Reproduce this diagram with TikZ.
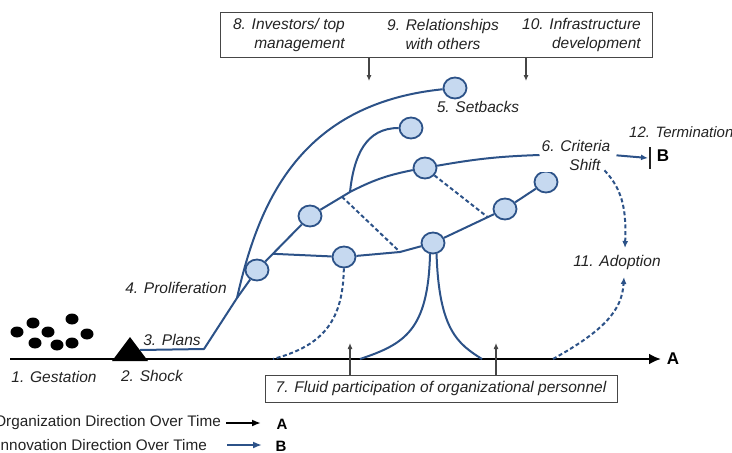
\documentclass[tikz,border=0pt]{standalone}
\usepackage{fontspec}
\setmainfont{Liberation Sans}
\usetikzlibrary{arrows.meta,calc,shapes.geometric}
\definecolor{blu}{RGB}{44,82,136}
\definecolor{cfill}{RGB}{198,217,240}
\definecolor{txt}{RGB}{35,35,35}
\definecolor{gry}{RGB}{70,70,70}
\begin{document}
\begin{tikzpicture}[x=1pt,y=-1pt,
  bub/.style={ellipse,draw=blu,fill=cfill,line width=1.8pt,minimum width=23pt,minimum height=21pt,inner sep=0pt},
  bl/.style={draw=blu,line width=2pt},
  bld/.style={bl,dash pattern=on 4pt off 2.6pt},
  blarr/.style={-{Latex[length=7pt,width=6pt]}},
  lab/.style={font=\fontsize{15.5}{19}\selectfont\itshape,text=txt,inner sep=2pt},
  leg/.style={font=\fontsize{15.3}{19}\selectfont,text=txt,inner sep=0pt},
  bigl/.style={font=\fontsize{17}{19}\selectfont\bfseries,text=black,inner sep=0pt},
  gar/.style={draw=gry,line width=1.1pt,-{Latex[length=6pt,width=5pt]}},
  dot/.style={fill=black}]
\useasboundingbox (0,0) rectangle (732,453);

% gestation dots
\foreach \x/\y in {17/332,33/323,48/332,72/319,87/334,35/343,57/345,72/343}
  \fill (\x,\y) ellipse [x radius=6.5pt,y radius=5.5pt];

% axis
\coordinate (ax0) at (10,359);
\coordinate (ax1) at (661,359);
\draw[line width=2.8pt,-{Latex[length=12pt,width=11pt]}] (ax0) -- (ax1);
\node[bigl] (A) at (673,359) {A};

% shock triangle
\fill (130,337) -- (148,361) -- (112,361) -- cycle;
\coordinate (tri) at (140,350);

% bubbles
\node[bub] (n1) at (257,270) {};
\node[bub] (n2) at (310,216) {};
\node[bub] (n3) at (344,257) {};
\node[bub] (n4) at (425,168) {};
\node[bub] (n5) at (433,243) {};
\node[bub] (n6) at (505,209) {};
\node[bub] (n7) at (546,182) {};
\node[bub] (n8) at (411,128) {};
\node[bub] (n9) at (455,88) {};

% labels
\node[lab] (gest) at (54,377) {1. Gestation};
\node[lab] (shock) at (152,376) {2. Shock};
\node[lab] (plans) at (172,340) {3. Plans};
\node[lab] (prol) at (176,288) {4. Proliferation};
\node[lab] (setb) at (478,107) {5. Setbacks};
\node[lab,fill=white,align=center] (crit) at (576,155) {6. Criteria\\\hspace*{18pt}Shift};
\node[lab] (adopt) at (617,262) {11. Adoption};
\node[lab,anchor=west,font=\fontsize{15}{19}\selectfont\itshape] (term) at (627,132) {12. Termination};
\node[bigl] (B) at (663,156) {B};

% top box
\node[draw=gry,line width=1pt,minimum width=432pt,minimum height=45pt,inner sep=0pt] (topbox) at (436,34.5) {};
\node[lab,align=right,anchor=east] (t8) at (347,34.5) {8. Investors/ top\\management};
\node[lab,align=center] (t9) at (443,34.5) {9. Relationships\\with others};
\node[lab,align=right,anchor=east] (t10) at (643,34.5) {10. Infrastructure\\development};
\coordinate (tA) at (369,81);
\coordinate (tB) at (526,81);
\draw[gar] (topbox.south -| tA) -- (tA);
\draw[gar] (topbox.south -| tB) -- (tB);

% bottom box
\node[draw=gry,line width=1pt,minimum width=352pt,minimum height=27pt,inner sep=0pt,
      font=\fontsize{15.5}{19}\selectfont\itshape,text=txt] (botbox) at (441,388.5)
      {7. Fluid participation of organizational personnel};
\coordinate (bA) at (350,343);
\coordinate (bB) at (496,343);
\draw[gar] (botbox.north -| bA) -- (bA);
\draw[gar] (botbox.north -| bB) -- (bB);

% junction points
\coordinate (p2) at (204,349);
\coordinate (j0) at (237,298);
\coordinate (j1) at ($(n1)!0.3!(n2)$);
\coordinate (j2) at (350,192);
\coordinate (j3) at ($(n2)!0.8!(j2)$);
\coordinate (j4) at (400,252);
\coordinate (j5) at ($(n5)!0.76!(n6)$);
\coordinate (a1) at (273,359);
\coordinate (a2) at (360,359);
\coordinate (a3) at (482,359);
\coordinate (a4) at (553,359);
\coordinate (ad1) at (625,248);
\coordinate (ad2) at (624,277);
\coordinate (bartop) at (650,147);
\coordinate (barbot) at (650,169);

% solid blue paths
\draw[bl,line join=round] (tri) -- (p2) -- (j0) -- (n1);
\draw[bl] (j0) .. controls (258,205) and (298,104) .. (n9);
\draw[bl] (n1) -- (n2);
\draw[bl] (n2) -- (j2) to[bend left=8] (n4);
\draw[bl] (n4) to[bend left=4] (crit.west);
\draw[bl] (j2) .. controls (354,155) and (366,128) .. (n8);
\draw[bl] (j1) -- (n3);
\draw[bl] (n3) -- (j4) -- (n5);
\draw[bl] (n5) -- (n6);
\draw[bl] (n6) -- (n7);
\draw[bl] (n5.255) .. controls (428,330) and (405,344) .. (a2);
\draw[bl] (n5.288) .. controls (439,330) and (458,344) .. (a3);

% dashed blue paths
\draw[bld] (j3) -- (j4);
\draw[bld] (n4) -- (j5);
\draw[bld] (n3) .. controls (343,322) and (322,346) .. (a1);
\draw[bld,blarr] ($(crit.south east)+(-8,-2)$) .. controls (625,192) and (626,215) .. (ad1);
\draw[bld,blarr] (a4) .. controls (605,330) and (622,310) .. (ad2);

% termination
\draw[bl,blarr,shorten <=4pt] (crit.east) -- ($(bartop)!0.5!(barbot)+(-2,0)$);
\draw[line width=2.8pt,draw=txt] (bartop) -- (barbot);

% legend
\node[leg,anchor=east] (l1) at (221,423) {Organization Direction Over Time};
\node[leg,anchor=east] (l2) at (207,445) {Innovation Direction Over Time};
\coordinate (la0) at (226,423);
\coordinate (la1) at (261,423);
\coordinate (lb0) at (227,445);
\coordinate (lb1) at (262,445);
\draw[line width=2.2pt,-{Latex[length=9pt,width=7pt]}] (la0) -- (la1);
\draw[draw=blu,line width=2.2pt,-{Latex[length=9pt,width=7pt]}] (lb0) -- (lb1);
\node[bigl,font=\fontsize{15}{18}\selectfont\bfseries] (lA) at (282,424) {A};
\node[bigl,font=\fontsize{15}{18}\selectfont\bfseries] (lB) at (281,446) {B};
\end{tikzpicture}
\end{document}
